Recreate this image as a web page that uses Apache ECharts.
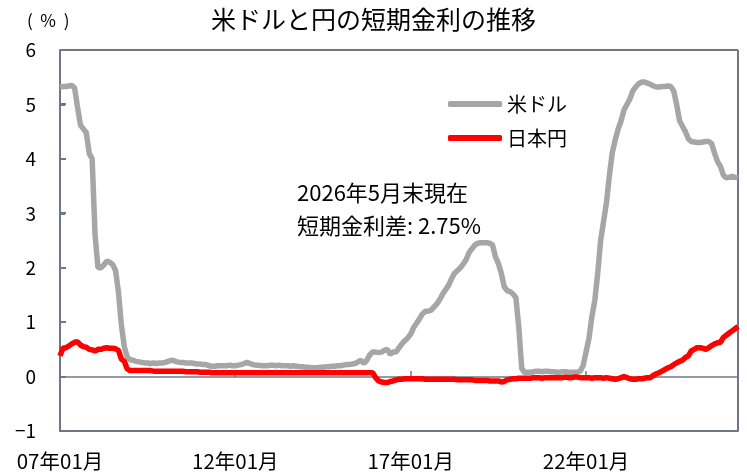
<!DOCTYPE html>
<html><head><meta charset="utf-8">
<script src="https://cdn.jsdelivr.net/npm/echarts@6/dist/echarts.min.js"></script>
<style>html,body{margin:0;padding:0;background:#fff}#c{width:747px;height:474px}</style>
</head><body><div id="c"></div>
<script>
// Monthly categories 2007-01 .. 2026-05
const startYear = 2007, startMonth = 1, monthCount = 233;
const categories = [];
for (let k = 0; k < monthCount; k++) {
  const y = startYear + Math.floor((startMonth - 1 + k) / 12);
  const m = (startMonth - 1 + k) % 12 + 1;
  categories.push(String(y % 100).padStart(2, '0') + '年' + String(m).padStart(2, '0') + '月');
}
const usdRate = [
  5.32,5.33,5.33,5.34,5.35,5.30,4.95,4.62,4.55,4.48,
  4.10,4.00,2.60,2.00,2.00,2.05,2.12,2.10,2.06,1.95,
  1.55,0.95,0.55,0.36,0.31,0.30,0.28,0.27,0.26,0.25,
  0.25,0.24,0.25,0.24,0.25,0.25,0.26,0.28,0.30,0.29,
  0.27,0.26,0.26,0.25,0.25,0.25,0.24,0.23,0.23,0.22,
  0.22,0.20,0.19,0.19,0.20,0.20,0.20,0.20,0.21,0.20,
  0.20,0.21,0.22,0.24,0.26,0.24,0.22,0.21,0.21,0.20,
  0.20,0.20,0.21,0.21,0.20,0.21,0.20,0.20,0.20,0.19,
  0.20,0.19,0.18,0.18,0.17,0.17,0.16,0.16,0.16,0.17,
  0.17,0.18,0.18,0.19,0.19,0.20,0.20,0.21,0.22,0.22,
  0.23,0.24,0.27,0.30,0.24,0.30,0.40,0.45,0.45,0.44,
  0.45,0.48,0.50,0.41,0.45,0.45,0.53,0.60,0.66,0.71,
  0.78,0.90,0.98,1.06,1.15,1.20,1.20,1.22,1.28,1.34,
  1.42,1.52,1.60,1.68,1.80,1.90,1.95,2.00,2.07,2.15,
  2.28,2.35,2.42,2.45,2.46,2.46,2.46,2.45,2.42,2.20,
  2.08,1.90,1.65,1.58,1.56,1.52,1.45,0.90,0.15,0.07,
  0.08,0.08,0.09,0.10,0.10,0.09,0.10,0.10,0.09,0.09,
  0.08,0.08,0.09,0.09,0.08,0.08,0.08,0.08,0.10,0.20,
  0.45,0.70,1.10,1.40,1.90,2.50,2.85,3.20,3.70,4.12,
  4.35,4.55,4.70,4.90,5.00,5.10,5.25,5.32,5.38,5.41,
  5.41,5.39,5.37,5.34,5.32,5.32,5.33,5.33,5.34,5.33,
  5.25,5.00,4.70,4.60,4.50,4.37,4.32,4.31,4.30,4.30,
  4.31,4.32,4.32,4.28,4.10,3.95,3.86,3.70,3.65,3.66,
  3.68,3.66,3.65
];
const jpyRate = [
  0.38,0.52,0.53,0.56,0.60,0.63,0.64,0.58,0.55,0.54,
  0.50,0.49,0.47,0.50,0.50,0.52,0.53,0.52,0.52,0.51,
  0.48,0.32,0.28,0.14,0.11,0.11,0.11,0.11,0.11,0.11,
  0.11,0.11,0.10,0.10,0.10,0.10,0.10,0.10,0.10,0.10,
  0.10,0.10,0.10,0.09,0.09,0.09,0.09,0.09,0.08,0.08,
  0.08,0.08,0.07,0.07,0.07,0.07,0.07,0.07,0.07,0.07,
  0.07,0.07,0.07,0.07,0.07,0.07,0.07,0.07,0.07,0.07,
  0.07,0.07,0.07,0.07,0.07,0.07,0.07,0.07,0.07,0.07,
  0.07,0.07,0.07,0.07,0.07,0.07,0.07,0.07,0.07,0.07,
  0.07,0.07,0.07,0.07,0.07,0.07,0.07,0.07,0.07,0.07,
  0.07,0.07,0.07,0.07,0.07,0.07,0.07,0.07,-0.02,-0.08,
  -0.10,-0.11,-0.11,-0.09,-0.08,-0.06,-0.05,-0.05,-0.04,-0.04,
  -0.04,-0.04,-0.04,-0.04,-0.04,-0.05,-0.05,-0.05,-0.05,-0.05,
  -0.05,-0.05,-0.05,-0.05,-0.05,-0.05,-0.06,-0.06,-0.06,-0.06,
  -0.06,-0.06,-0.07,-0.07,-0.07,-0.07,-0.07,-0.08,-0.08,-0.08,
  -0.08,-0.10,-0.09,-0.06,-0.05,-0.04,-0.04,-0.03,-0.03,-0.03,
  -0.03,-0.03,-0.02,-0.02,-0.02,-0.03,-0.02,-0.02,-0.02,-0.02,
  -0.02,-0.02,-0.02,-0.01,-0.02,-0.02,-0.01,-0.01,-0.02,-0.02,
  -0.02,-0.02,-0.03,-0.02,-0.02,-0.02,-0.03,-0.02,-0.03,-0.04,
  -0.05,-0.04,-0.02,0.00,-0.02,-0.04,-0.05,-0.05,-0.04,-0.04,
  -0.03,-0.02,-0.02,0.02,0.05,0.07,0.10,0.13,0.16,0.18,
  0.22,0.25,0.28,0.30,0.35,0.38,0.47,0.50,0.53,0.53,
  0.52,0.50,0.53,0.57,0.60,0.62,0.63,0.72,0.76,0.80,
  0.84,0.88,0.92
];
const seriesNames = ['米ドル', '日本円'];
const titleText = '米ドルと円の短期金利の推移';
const noteLines = ['2026年5月末現在', '短期金利差: 2.75%'];
const unitText = '(  %  )';
const yMin = -1, yMax = 6, yStep = 1, labelEvery = 60;

const FONT = '"Noto Sans CJK JP", "Noto Sans", sans-serif';
const AXIS = '#6e7884';
const AXW = 2;
const textGraphics = [
  {type: 'text', left: 27, top: 12, style: {text: unitText, font: '17px ' + FONT, fill: '#000'}},
  {type: 'text', left: 297, top: 182, style: {text: noteLines[0], font: '22px ' + FONT, fill: '#000'}},
  {type: 'text', left: 297, top: 215, style: {text: noteLines[1], font: '22px ' + FONT, fill: '#000'}}
];
const chart = echarts.init(document.getElementById('c'), null, {renderer: 'canvas'});
chart.setOption({
  animation: false,
  backgroundColor: '#fff',
  textStyle: {fontFamily: FONT},
  title: {text: titleText, left: 'center', top: 2,
    textStyle: {fontFamily: FONT, fontSize: 25, fontWeight: 'normal', color: '#000'}},
  grid: {left: 60, right: 9, top: 50, bottom: 43, containLabel: false, outerBoundsMode: 'none'},
  legend: {
    data: seriesNames, orient: 'vertical', left: 443, top: 89,
    icon: 'roundRect', itemWidth: 54, itemHeight: 6, itemGap: 14,
    textStyle: {fontFamily: FONT, fontSize: 20, color: '#000'}
  },
  graphic: textGraphics,
  xAxis: {
    type: 'category', data: categories, boundaryGap: false, position: 'bottom',
    axisLine: {show: true, onZero: false, lineStyle: {color: AXIS, width: AXW}},
    axisTick: {show: false},
    axisLabel: {interval: labelEvery - 1, margin: 20, fontSize: 20.5, color: '#000', fontFamily: FONT},
    splitLine: {show: false}
  },
  yAxis: {
    type: 'value', min: yMin, max: yMax, interval: yStep, position: 'left',
    axisLine: {show: true, onZero: false, lineStyle: {color: AXIS, width: AXW}},
    axisTick: {show: true, inside: true, length: 5, lineStyle: {color: AXIS, width: AXW}},
    axisLabel: {fontSize: 19, color: '#000', margin: 24, fontFamily: FONT,
      formatter: v => v < 0 ? '−' + Math.abs(v) : String(v)},
    splitLine: {show: false}
  },
  series: [
    {name: seriesNames[0], type: 'line', data: usdRate, symbol: 'none', smooth: false, clip: false,
      lineStyle: {color: '#a6a6a6', width: 5.5}, itemStyle: {color: '#a6a6a6'}, z: 2},
    {name: seriesNames[1], type: 'line', data: jpyRate, symbol: 'none', smooth: false, clip: false,
      lineStyle: {color: '#ff0000', width: 5.5}, itemStyle: {color: '#ff0000'}, z: 3}
  ]
});

// Frame, zero line and ticks, positioned through the chart's own scales
const tl = chart.convertToPixel({gridIndex: 0}, [0, yMax]);
const br = chart.convertToPixel({gridIndex: 0}, [monthCount - 1, yMin]);
const zeroY = chart.convertToPixel({gridIndex: 0}, [0, 0])[1];
const L = Math.round(tl[0]), T = Math.round(tl[1]), R = Math.round(br[0]), B = Math.round(br[1]);
const Z0 = Math.round(zeroY);
const seg = (x1, y1, x2, y2, w) => ({type: 'line', z: 1, silent: true,
  shape: {x1: x1, y1: y1, x2: x2, y2: y2}, style: {stroke: AXIS, lineWidth: w || AXW}});
const deco = [
  seg(L, T, R, T), seg(R, T, R, B), seg(L, B, R, B), seg(L, T, L, B),
  seg(L, Z0, R, Z0, 1.5)
];
for (let v = yMin + yStep; v < yMax; v += yStep) {
  const py = Math.round(chart.convertToPixel({gridIndex: 0}, [0, v])[1]);
  deco.push(seg(L, py, L + 6, py));
}
for (let k = labelEvery; k < monthCount - 1; k += labelEvery) {
  const px = Math.round(chart.convertToPixel({gridIndex: 0}, [k, 0])[0]);
  deco.push(seg(px, Z0, px, Z0 - 6, 1.5));
}
chart.setOption({graphic: textGraphics.concat(deco)});
</script></body></html>
